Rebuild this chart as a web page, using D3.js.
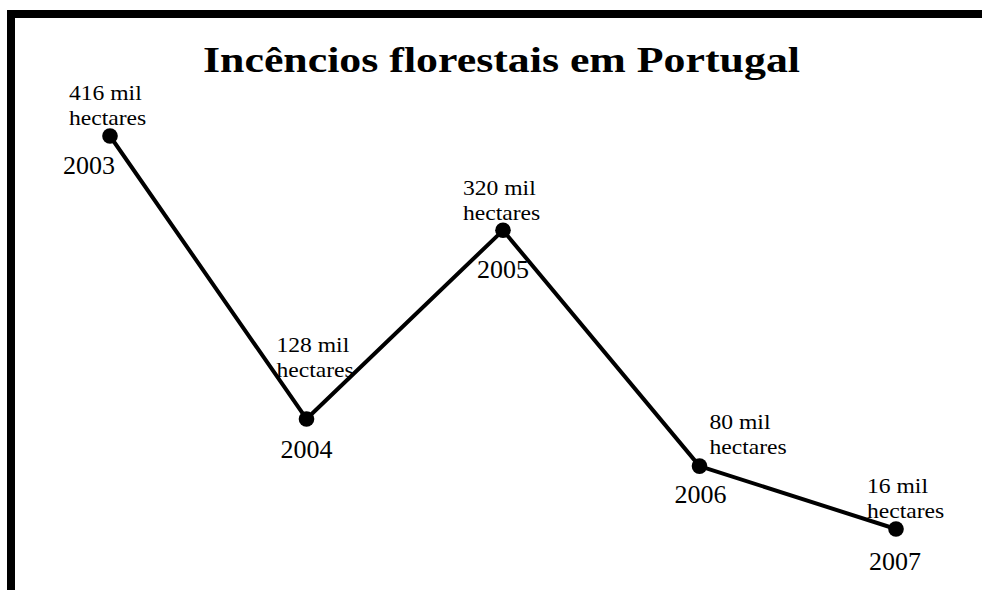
<!DOCTYPE html>
<html>
<head>
<meta charset="utf-8">
<script src="https://cdn.jsdelivr.net/npm/d3@7"></script>
<style>
  body { margin: 0; background: #fff; }
  text { font-family: "Liberation Serif", "DejaVu Serif", serif; fill: #000; }
</style>
</head>
<body>
<div id="chart"></div>
<script>
// data
var years = [2003, 2004, 2005, 2006, 2007];
var areas = [416, 128, 320, 80, 16]; // mil hectares
var valueLabels = ["416 mil", "128 mil", "320 mil", "80 mil", "16 mil"];
var unitLabel = "hectares";
var title = "Incêncios florestais em Portugal";

// label placement relative to each point (layout only)
var valueOffset = [[-41, -36], [-30, -67], [-40, -35], [10, -37], [-29, -36]];
var yearOffset = [[-21, 38], [0, 39], [0, 48], [1, 37], [-1, 41]];

var width = 982, height = 590;

var svg = d3.select("#chart")
  .append("svg")
  .attr("width", width)
  .attr("height", height);

// frame (runs off the right and bottom edge like the original)
svg.append("rect")
  .attr("x", 11)
  .attr("y", 14)
  .attr("width", 1000)
  .attr("height", 620)
  .attr("fill", "none")
  .attr("stroke", "#000")
  .attr("stroke-width", 8);

var x = d3.scaleLinear()
  .domain([2003, 2007])
  .range([110, 896]);

var y = d3.scaleLinear()
  .domain([16, 416])
  .range([529, 136]);

svg.append("text")
  .attr("x", 501.5)
  .attr("y", 72)
  .attr("text-anchor", "middle")
  .attr("textLength", 597)
  .attr("lengthAdjust", "spacingAndGlyphs")
  .style("font-size", "36px")
  .style("font-weight", "bold")
  .text(title);

var pts = years.map(function (d, i) {
  return { year: d, value: areas[i], label: valueLabels[i], i: i };
});

var line = d3.line()
  .x(function (d) { return x(d.year); })
  .y(function (d) { return y(d.value); });

svg.append("path")
  .datum(pts)
  .attr("d", line)
  .attr("fill", "none")
  .attr("stroke", "#000")
  .attr("stroke-width", 4)
  .attr("stroke-linejoin", "round");

svg.selectAll("circle.pt")
  .data(pts)
  .enter()
  .append("circle")
  .attr("class", "pt")
  .attr("cx", function (d) { return x(d.year); })
  .attr("cy", function (d) { return y(d.value); })
  .attr("r", 7.8)
  .attr("fill", "#000");

// value labels, two lines; stretched a bit to get the wide look of the original face
var vl = svg.selectAll("g.vlabel")
  .data(pts)
  .enter()
  .append("g")
  .attr("class", "vlabel")
  .attr("transform", function (d) {
    return "translate(" + (x(d.year) + valueOffset[d.i][0]) + "," + (y(d.value) + valueOffset[d.i][1]) + ") scale(1.18,1)";
  });

vl.append("text")
  .attr("x", 0)
  .attr("y", 0)
  .style("font-size", "20px")
  .text(function (d) { return d.label; });

vl.append("text")
  .attr("x", 0)
  .attr("y", 25)
  .style("font-size", "20px")
  .text(unitLabel);

// year labels
svg.selectAll("text.year")
  .data(pts)
  .enter()
  .append("text")
  .attr("class", "year")
  .attr("x", function (d) { return x(d.year) + yearOffset[d.i][0]; })
  .attr("y", function (d) { return y(d.value) + yearOffset[d.i][1]; })
  .attr("text-anchor", "middle")
  .style("font-size", "26px")
  .text(function (d) { return d.year; });
</script>
</body>
</html>
